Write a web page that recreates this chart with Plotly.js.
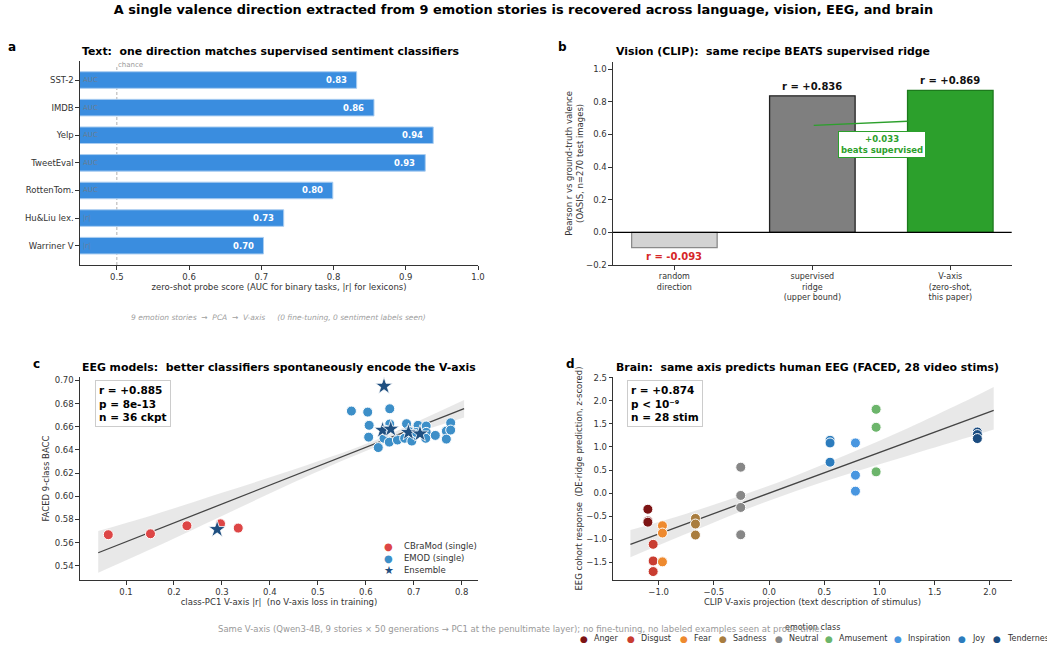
<!DOCTYPE html>
<html><head><meta charset="utf-8">
<script src="https://cdn.plot.ly/plotly-3.0.1.min.js"></script>
<style>html,body{margin:0;padding:0;background:#fff}#chart{width:1047px;height:646px}</style>
</head><body><div id="chart"></div>
<script>
// ---------- DATA ----------
// Panel a: text
const TEXT_DATASETS = ['SST-2', 'IMDB', 'Yelp', 'TweetEval', 'RottenTom.', 'Hu&Liu lex.', 'Warriner V'];
const TEXT_SCORES   = [0.832, 0.856, 0.938, 0.927, 0.799, 0.731, 0.703];
const TEXT_LABELS   = ['0.83', '0.86', '0.94', '0.93', '0.80', '0.73', '0.70'];
const TEXT_METRIC   = ['AUC', 'AUC', 'AUC', 'AUC', 'AUC', '|r|', '|r|'];
const CHANCE = 0.5;

// Panel b: vision
const VISION_METHODS = ['random<br>direction', 'supervised<br>ridge<br>(upper bound)', 'V-axis<br>(zero-shot,<br>this paper)'];
const VISION_R       = [-0.093, 0.836, 0.869];
const VISION_LABELS  = ['r = -0.093', 'r = +0.836', 'r = +0.869'];
const VISION_GAIN_LABEL = '+0.033<br>beats supervised';

// Panel c: EEG models
const CBRAMOD_X = [0.063, 0.151, 0.227, 0.297, 0.334];
const CBRAMOD_Y = [0.5668, 0.5676, 0.5745, 0.5762, 0.5725];
const EMOD_X = [0.570, 0.604, 0.650, 0.607, 0.650, 0.606, 0.638, 0.626, 0.649, 0.666, 0.685, 0.681, 0.696,
                0.709, 0.726, 0.726, 0.725, 0.745, 0.768, 0.768, 0.777, 0.777, 0.690, 0.705, 0.640];
const EMOD_Y = [0.6735, 0.6726, 0.6755, 0.6612, 0.6623, 0.6510, 0.6500, 0.6420, 0.6467, 0.6485, 0.6626, 0.6500, 0.6476,
                0.6612, 0.6606, 0.6551, 0.6500, 0.6525, 0.6562, 0.6493, 0.6634, 0.6571, 0.6560, 0.6550, 0.6570];
const ENS_X = [0.290, 0.638, 0.635, 0.652, 0.689, 0.713];
const ENS_Y = [0.5714, 0.6950, 0.6570, 0.6580, 0.6551, 0.6539];
const FIT_C_X = [0.042, 0.805];
const FIT_C_Y = [0.5512, 0.6756];
const BAND_C_X  = [0.042, 0.15, 0.30, 0.45, 0.60, 0.70, 0.805];
const BAND_C_LO = [0.534, 0.554, 0.583, 0.612, 0.639, 0.654, 0.668];
const BAND_C_HI = [0.570, 0.583, 0.603, 0.623, 0.645, 0.663, 0.683];
const STATS_C = 'r = +0.885<br>p = 8e-13<br>n = 36 ckpt';

// Panel d: brain
const EMOTIONS = ['Anger', 'Disgust', 'Fear', 'Sadness', 'Neutral', 'Amusement', 'Inspiration', 'Joy', 'Tenderness'];
const EMOTION_COLORS = ['#7d1414', '#c93d31', '#ee8a2f', '#a97d3f', '#878787', '#6cb56b', '#4896e0', '#2c7cbd', '#1b4c80'];
const BRAIN_CLASS = ['Anger','Anger','Anger','Disgust','Disgust','Disgust','Fear','Fear','Fear','Sadness','Sadness','Sadness',
                     'Neutral','Neutral','Neutral','Neutral','Amusement','Amusement','Amusement','Inspiration','Inspiration','Inspiration',
                     'Joy','Joy','Joy','Tenderness','Tenderness','Tenderness'];
const BRAIN_X = [-1.098,-1.098,-1.098,-1.05,-1.05,-1.05,-0.966,-0.966,-0.966,-0.667,-0.667,-0.667,
                 -0.257,-0.257,-0.257,-0.257,0.969,0.969,0.969,0.782,0.782,0.782,0.552,0.552,0.552,1.886,1.886,1.886];
const BRAIN_Y = [-0.350,-0.603,-0.630,-1.110,-1.470,-1.700,-0.707,-0.866,-1.490,-0.549,-0.671,-0.909,
                 0.561,-0.051,-0.311,-0.902,1.815,1.426,0.460,1.087,0.388,0.042,1.144,1.086,0.669,1.324,1.267,1.181];
const FIT_D_X = [-1.256, 2.034];
const FIT_D_Y = [-1.111, 1.794];
const BAND_D_X  = [-1.256, -0.75, -0.25, 0.25, 0.75, 1.25, 1.75, 2.034];
const BAND_D_LO = [-1.390, -0.883, -0.391, 0.051, 0.441, 0.805, 1.170, 1.380];
const BAND_D_HI = [-0.800, -0.445, -0.055, 0.387, 0.879, 1.399, 1.960, 2.300];
const STATS_D = 'r = +0.874<br>p < 10⁻⁹<br>n = 28 stim';

// Texts
const MAIN_TITLE = 'A single valence direction extracted from 9 emotion stories is recovered across language, vision, EEG, and brain';
const TITLES = [
  'Text:  one direction matches supervised sentiment classifiers',
  'Vision (CLIP):  same recipe BEATS supervised ridge',
  'EEG models:  better classifiers spontaneously encode the V-axis',
  'Brain:  same axis predicts human EEG (FACED, 28 video stims)'
];
const NOTE_A = '9 emotion stories  →  PCA  →  V-axis\u00a0\u00a0\u00a0\u00a0\u00a0(0 fine-tuning, 0 sentiment labels seen)';
const FOOTNOTE = 'Same V-axis (Qwen3-4B, 9 stories × 50 generations → PC1 at the penultimate layer); no fine-tuning, no labeled examples seen at probe time.';

// ---------- LAYOUT HELPERS ----------
const W = 1047, H = 646;
const px = v => v / W;
const py = v => 1 - v / H;
const FONT = 'DejaVu Sans';
const DARK = '#333333';

function axisBase(extra) {
  return Object.assign({
    showline: true, linecolor: DARK, linewidth: 1.1, mirror: false,
    ticks: 'outside', ticklen: 3.5, tickwidth: 1, tickcolor: DARK,
    showgrid: false, zeroline: false, fixedrange: true,
    tickfont: {family: FONT, size: 8.5, color: DARK}
  }, extra);
}
const axTitleFont = {family: FONT, size: 8.5, color: DARK};

const traces = [];

// Panel a bars
traces.push({
  type: 'bar', orientation: 'h', x: TEXT_SCORES, y: TEXT_DATASETS, width: 0.6,
  marker: {color: '#3a8ddf', line: {color: '#a9cdf1', width: 1}},
  xaxis: 'x', yaxis: 'y', hoverinfo: 'skip'
});

// Panel b bars
traces.push({
  type: 'bar', x: VISION_METHODS, y: VISION_R, width: 0.62,
  marker: {color: ['#d3d3d3', '#7f7f7f', '#2ca02c'],
           line: {color: ['#8a8a8a', '#222222', '#1d7a1d'], width: 1.3}},
  xaxis: 'x2', yaxis: 'y2', hoverinfo: 'skip'
});

// Panel c: band, fit, points
traces.push({type: 'scatter', mode: 'lines', x: BAND_C_X, y: BAND_C_LO, line: {width: 0, shape: 'spline'},
             xaxis: 'x3', yaxis: 'y3', hoverinfo: 'skip'});
traces.push({type: 'scatter', mode: 'lines', x: BAND_C_X, y: BAND_C_HI, line: {width: 0, shape: 'spline'},
             fill: 'tonexty', fillcolor: 'rgba(150,150,150,0.22)', xaxis: 'x3', yaxis: 'y3', hoverinfo: 'skip'});
traces.push({type: 'scatter', mode: 'lines', x: FIT_C_X, y: FIT_C_Y, line: {color: '#444', width: 1.3},
             xaxis: 'x3', yaxis: 'y3', hoverinfo: 'skip'});
traces.push({type: 'scatter', mode: 'markers', name: 'CBraMod (single)', x: CBRAMOD_X, y: CBRAMOD_Y,
             marker: {size: 10, color: '#dd4646', line: {color: '#ffffff', width: 1}}, xaxis: 'x3', yaxis: 'y3'});
traces.push({type: 'scatter', mode: 'markers', name: 'EMOD (single)', x: EMOD_X, y: EMOD_Y,
             marker: {size: 10, color: '#3d8fc8', line: {color: '#ffffff', width: 1}}, xaxis: 'x3', yaxis: 'y3'});
traces.push({type: 'scatter', mode: 'markers', name: 'Ensemble', x: ENS_X, y: ENS_Y,
             marker: {size: 13, symbol: 'star', color: '#1f4f80', line: {color: '#ffffff', width: 0.8}}, xaxis: 'x3', yaxis: 'y3'});

// Panel d: band, fit, points
traces.push({type: 'scatter', mode: 'lines', x: BAND_D_X, y: BAND_D_LO, line: {width: 0, shape: 'spline'},
             xaxis: 'x4', yaxis: 'y4', hoverinfo: 'skip'});
traces.push({type: 'scatter', mode: 'lines', x: BAND_D_X, y: BAND_D_HI, line: {width: 0, shape: 'spline'},
             fill: 'tonexty', fillcolor: 'rgba(150,150,150,0.22)', xaxis: 'x4', yaxis: 'y4', hoverinfo: 'skip'});
traces.push({type: 'scatter', mode: 'lines', x: FIT_D_X, y: FIT_D_Y, line: {color: '#444', width: 1.3},
             xaxis: 'x4', yaxis: 'y4', hoverinfo: 'skip'});
EMOTIONS.forEach((emo, k) => {
  const xs = [], ys = [];
  BRAIN_CLASS.forEach((c, i) => { if (c === emo) { xs.push(BRAIN_X[i]); ys.push(BRAIN_Y[i]); } });
  traces.push({type: 'scatter', mode: 'markers', name: emo, x: xs, y: ys,
               marker: {size: 10, color: EMOTION_COLORS[k], line: {color: '#ffffff', width: 1}},
               xaxis: 'x4', yaxis: 'y4'});
});

// ---------- ANNOTATIONS ----------
const ann = [];
// panel letters
[['a', 12, 47], ['b', 562, 47], ['c', 36, 364], ['d', 570, 364]].forEach(([t, x, y]) => {
  ann.push({text: t, xref: 'paper', yref: 'paper', x: px(x), y: py(y), xanchor: 'center', yanchor: 'middle',
            showarrow: false, font: {family: FONT, size: 12, weight: 'bold', color: '#000'}});
});
// subplot titles
[[0, 80, 51], [1, 614, 51], [2, 80, 367], [3, 614, 367]].forEach(([i, x, y]) => {
  ann.push({text: TITLES[i], xref: 'paper', yref: 'paper', x: px(x), y: py(y), xanchor: 'left', yanchor: 'middle',
            showarrow: false, font: {family: FONT, size: 10.9, weight: 'bold', color: '#000'}});
});
// panel a: value labels, metric labels, chance label
TEXT_DATASETS.forEach((d, i) => {
  ann.push({text: TEXT_LABELS[i], xref: 'x', yref: 'y', x: TEXT_SCORES[i] - 0.011, y: d, xanchor: 'right', yanchor: 'middle',
            showarrow: false, font: {family: FONT, size: 8.5, weight: 'bold', color: '#ffffff'}});
  ann.push({text: TEXT_METRIC[i], xref: 'x', yref: 'y', x: 0.451, y: d, xanchor: 'left', yanchor: 'middle',
            showarrow: false, font: {family: FONT, size: 7, color: 'rgba(120,120,120,0.75)'}});
});
ann.push({text: 'chance', xref: 'x', yref: 'y domain', x: CHANCE, y: 1.0, xanchor: 'left', yanchor: 'top', xshift: -1, yshift: 2,
          showarrow: false, font: {family: FONT, size: 7, color: '#999'}});
ann.push({text: NOTE_A, xref: 'paper', yref: 'paper', x: px(278), y: py(317), xanchor: 'center', yanchor: 'middle',
          showarrow: false, font: {family: FONT, size: 7.5, style: 'italic', color: '#a0a0a0'}});
// panel b labels
VISION_METHODS.forEach((m, i) => {
  const neg = VISION_R[i] < 0;
  ann.push({text: VISION_LABELS[i], xref: 'x2', yref: 'y2', x: m, y: VISION_R[i] + (neg ? -0.012 : 0.012),
            xanchor: 'center', yanchor: neg ? 'top' : 'bottom', showarrow: false,
            font: {family: FONT, size: 10, weight: 'bold', color: neg ? '#d62728' : '#111'}});
});
ann.push({text: VISION_GAIN_LABEL, xref: 'x2', yref: 'y2', x: 1.503, y: 0.535, xanchor: 'center', yanchor: 'middle',
          showarrow: false, bgcolor: '#ffffff', bordercolor: '#2ca02c', borderwidth: 1, borderpad: 2,
          font: {family: FONT, size: 8.5, weight: 'bold', color: '#2ca02c'}});
// stats boxes
[[STATS_C, 95, 380], [STATS_D, 627, 380]].forEach(([t, x, y]) => {
  ann.push({text: t, xref: 'paper', yref: 'paper', x: px(x), y: py(y), xanchor: 'left', yanchor: 'top', align: 'left',
            showarrow: false, bgcolor: 'rgba(255,255,255,0.9)', bordercolor: '#cccccc', borderwidth: 1, borderpad: 3,
            font: {family: FONT, size: 10.5, weight: 'bold', color: '#000'}});
});
// panel c legend
[['●', '#dd4646', 'CBraMod (single)', 546, 10], ['●', '#3d8fc8', 'EMOD (single)', 558, 10], ['★', '#1f4f80', 'Ensemble', 570, 11]]
  .forEach(([g, c, t, y, s]) => {
    ann.push({text: g, xref: 'paper', yref: 'paper', x: px(388.5), y: py(y), xanchor: 'center', yanchor: 'middle',
              showarrow: false, font: {family: FONT, size: s, color: c}});
    ann.push({text: t, xref: 'paper', yref: 'paper', x: px(402), y: py(y), xanchor: 'left', yanchor: 'middle',
              showarrow: false, font: {family: FONT, size: 8.5, color: DARK}});
  });
// bottom legend for panel d
const LEG_MARK_X = [584, 631, 684, 723, 779, 829, 898, 962, 997];
ann.push({text: 'emotion class', xref: 'paper', yref: 'paper', x: px(812), y: py(627.5), xanchor: 'center', yanchor: 'middle',
          showarrow: false, font: {family: FONT, size: 8, color: DARK}});
EMOTIONS.forEach((e, k) => {
  ann.push({text: '●', xref: 'paper', yref: 'paper', x: px(LEG_MARK_X[k]), y: py(638.5), xanchor: 'center', yanchor: 'middle',
            showarrow: false, font: {family: FONT, size: 9, color: EMOTION_COLORS[k]}});
  ann.push({text: e, xref: 'paper', yref: 'paper', x: px(LEG_MARK_X[k] + 8), y: py(638.5), xanchor: 'left', yanchor: 'middle',
            showarrow: false, font: {family: FONT, size: 8, color: DARK}});
});
// footnote
ann.push({text: FOOTNOTE, xref: 'paper', yref: 'paper', x: px(520), y: py(629), xanchor: 'center', yanchor: 'middle',
          showarrow: false, font: {family: FONT, size: 8.5, color: '#999'}});

// ---------- SHAPES ----------
const shapes = [
  {type: 'line', xref: 'x', yref: 'y domain', x0: CHANCE, x1: CHANCE, y0: 0, y1: 0.97, layer: 'below',
   line: {color: '#b0b0b0', width: 1, dash: '3px,2px'}},
  {type: 'line', xref: 'x2 domain', yref: 'y2', x0: 0, x1: 1, y0: 0, y1: 0, layer: 'above',
   line: {color: '#000', width: 1.2}},
  {type: 'line', xref: 'x2', yref: 'y2', x0: 1.01, x1: 1.69, y0: 0.655, y1: 0.68, layer: 'above',
   line: {color: '#2ca02c', width: 1.4}}
];

const layout = {
  width: W, height: H, margin: {l: 0, r: 0, t: 0, b: 0},
  paper_bgcolor: '#ffffff', plot_bgcolor: '#ffffff',
  showlegend: false, hovermode: false,
  font: {family: FONT, color: DARK},
  title: {text: MAIN_TITLE, x: 0.5, xanchor: 'center', y: py(9), yanchor: 'middle',
          font: {family: FONT, size: 12.9, weight: 'bold', color: '#000'}},
  xaxis: axisBase({domain: [px(80), px(478)], anchor: 'y', range: [0.449, 1.0],
                   tickvals: [0.5, 0.6, 0.7, 0.8, 0.9, 1.0], tickformat: '.1f',
                   title: {text: 'zero-shot probe score (AUC for binary tasks, |r| for lexicons)', font: axTitleFont, standoff: 3}}),
  yaxis: axisBase({domain: [py(265), py(60.7)], anchor: 'x', type: 'category', range: [6.7, -0.7], layer: 'below traces'}),
  xaxis2: axisBase({domain: [px(613), px(1011.7)], anchor: 'y2', type: 'category', range: [-0.445, 2.445],
                    tickfont: {family: FONT, size: 8, color: DARK}}),
  yaxis2: axisBase({domain: [py(265), py(61.7)], anchor: 'x2', range: [-0.2, 1.045],
                    tickvals: [-0.2, 0, 0.2, 0.4, 0.6, 0.8, 1.0], tickformat: '.1f',
                    title: {text: 'Pearson r vs ground-truth valence<br>(OASIS, n=270 test images)', font: axTitleFont, standoff: 1}}),
  xaxis3: axisBase({domain: [px(80), px(478)], anchor: 'y3', range: [0.004, 0.834],
                    tickvals: [0.1, 0.2, 0.3, 0.4, 0.5, 0.6, 0.7, 0.8], tickformat: '.1f',
                    title: {text: 'class-PC1 V-axis |r|  (no V-axis loss in training)', font: axTitleFont, standoff: 3}}),
  yaxis3: axisBase({domain: [py(580), py(377)], anchor: 'x3', range: [0.5277, 0.7029],
                    tickvals: [0.54, 0.56, 0.58, 0.60, 0.62, 0.64, 0.66, 0.68, 0.70], tickformat: '.2f',
                    title: {text: 'FACED 9-class BACC', font: axTitleFont, standoff: 3}}),
  xaxis4: axisBase({domain: [px(613.3), px(1011.7)], anchor: 'y4', range: [-1.411, 2.197],
                    tickvals: [-1.0, -0.5, 0, 0.5, 1.0, 1.5, 2.0], tickformat: '.1f',
                    title: {text: 'CLIP V-axis projection (text description of stimulus)', font: axTitleFont, standoff: 3}}),
  yaxis4: axisBase({domain: [py(580), py(377)], anchor: 'x4', range: [-1.883, 2.515],
                    tickvals: [-1.5, -1.0, -0.5, 0, 0.5, 1.0, 1.5, 2.0, 2.5], tickformat: '.1f',
                    title: {text: 'EEG cohort response  (DE-ridge prediction, z-scored)', font: axTitleFont, standoff: 2}}),
  annotations: ann,
  shapes: shapes
};

Plotly.newPlot('chart', traces, layout, {displayModeBar: false, staticPlot: true});
</script>
</body></html>
